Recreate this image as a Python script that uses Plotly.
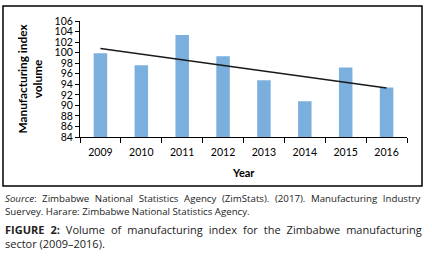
import numpy as np
import plotly.graph_objects as go

years = ["2009", "2010", "2011", "2012", "2013", "2014", "2015", "2016"]
values = [99.9, 97.6, 103.35, 99.3, 94.75, 90.8, 97.2, 93.4]
y_ticks = list(range(84, 107, 2))

xi = np.arange(len(years))
slope, intercept = np.polyfit(xi, values, 1)
trend = [slope * i + intercept for i in xi]

W, H = 432, 257
L, R, T, B = 80, 25, 21, 120
pw, ph = W - L - R, H - T - B

def px(x):
    return (x - L) / pw

def py(y):
    return (H - B - y) / ph

fig = go.Figure()
fig.add_trace(go.Bar(x=years, y=values, marker=dict(color="#7BAFDE", line=dict(width=0)),
                     width=0.33, showlegend=False, hoverinfo="skip"))
fig.add_trace(go.Scatter(x=years, y=trend, mode="lines", line=dict(color="#1a1a1a", width=1.5),
                         showlegend=False, hoverinfo="skip"))

font = "Lato, 'Open Sans', sans-serif"
fig.update_layout(
    width=W, height=H, margin=dict(l=L, r=R, t=T, b=B, autoexpand=False),
    paper_bgcolor="white", plot_bgcolor="white",
    font=dict(family=font, color="#000"),
    xaxis=dict(type="category", tickson="boundaries", ticks="outside", ticklen=5,
               tickcolor="#000", showline=True, linecolor="#000", linewidth=1,
               showgrid=False, tickfont=dict(size=10.5, color="#000"), zeroline=False,
               automargin=False, ticklabelstandoff=5),
    yaxis=dict(range=[84, 106], tickvals=y_ticks, ticks="outside", ticklen=4,
               tickcolor="#000", showline=True, linecolor="#000", linewidth=1,
               showgrid=False, tickfont=dict(size=10.5, color="#000"), zeroline=False,
               automargin=False),
)

fig.add_annotation(text="<b>Manufacturing index<br>volume</b>", textangle=-90,
                   xref="paper", yref="paper", x=px(29), y=py(78.5),
                   xanchor="center", yanchor="middle", showarrow=False,
                   font=dict(size=11.8, family=font, color="#000"))
fig.add_annotation(text="<b>Year</b>", xref="paper", yref="paper", x=px(243), y=py(172),
                   xanchor="center", yanchor="middle", showarrow=False,
                   font=dict(size=11, family=font, color="#000"))

cap_font = "'Open Sans', sans-serif"
cap_color = "#222"
src_size = 9.7
fig_size = 11

caption_lines = [
    ("<i>Source</i>: Zimbabwe National Statistics Agency (ZimStats). (2017). Manufacturing Industry", 199, src_size),
    ("Suervey. Harare: Zimbabwe National Statistics Agency.", 211.5, src_size),
    ("<b>FIGURE 2:</b> Volume of manufacturing index for the Zimbabwe manufacturing", 229.5, fig_size),
    ("sector (2009–2016).", 243, fig_size),
]
for text, ypix, size in caption_lines:
    fig.add_annotation(text=text, xref="paper", yref="paper", x=px(3), y=py(ypix),
                       xanchor="left", yanchor="middle", align="left", showarrow=False,
                       font=dict(size=size, family=cap_font, color=cap_color))

fig.add_shape(type="rect", xref="paper", yref="paper",
              x0=px(3), x1=px(422), y0=py(186), y1=py(6),
              line=dict(color="#000", width=1.5), fillcolor="rgba(0,0,0,0)", layer="above")

# justify the first line of each caption paragraph (as in the typeset original)
justify_js = """
document.body.style.margin = '0';
(function () {
  var gd = document.getElementById('{plot_id}');
  var targets = [['Manufacturing Industry', 415.4], ['Zimbabwe manufacturing', 416.7]];
  function justify() {
    gd.querySelectorAll('text.annotation-text').forEach(function (t) {
      var s = t.textContent;
      targets.forEach(function (tg) {
        if (s.indexOf(tg[0]) >= 0) {
          t.style.wordSpacing = '0px';
          var w = t.getBBox().width;
          var gaps = (s.match(/ /g) || []).length;
          if (gaps > 0 && tg[1] > w) {
            t.style.wordSpacing = ((tg[1] - w) / gaps) + 'px';
          }
        }
      });
    });
  }
  justify();
  if (gd.on) { gd.on('plotly_afterplot', justify); }
})();
"""

fig.write_html("out.html", config={"displayModeBar": False}, post_script=justify_js)
